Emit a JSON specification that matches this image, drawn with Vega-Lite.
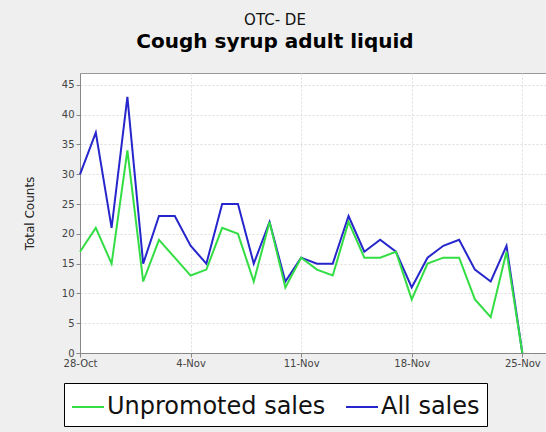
{
  "$schema": "https://vega.github.io/schema/vega-lite/v6.json",
  "width": 466,
  "height": 280,
  "autosize": {"type": "none"},
  "padding": {"left": 80, "top": 73, "right": 0, "bottom": 79},
  "background": "#efefef",
  "title": {
    "text": "OTC- DE",
    "subtitle": "Cough syrup adult liquid",
    "anchor": "middle",
    "dx": -38,
    "offset": 21,
    "font": "DejaVu Sans",
    "fontSize": 15,
    "fontWeight": "normal",
    "color": "#111111",
    "subtitleFont": "DejaVu Sans",
    "subtitleFontSize": 20,
    "subtitleFontWeight": "bold",
    "subtitleColor": "#000000",
    "subtitlePadding": 4
  },
  "config": {
    "view": {"fill": "white", "stroke": "#999999"},
    "axis": {
      "labelFont": "DejaVu Sans",
      "labelFontSize": 10,
      "labelColor": "#444444",
      "titleFont": "DejaVu Sans",
      "domainColor": "#888888",
      "tickColor": "#888888",
      "tickSize": 4,
      "gridColor": "#dddddd",
      "gridDash": [2, 2]
    }
  },
  "data": {
    "values": [
      {"date": "2012/10/28", "series": "All sales", "count": 30},
      {"date": "2012/10/29", "series": "All sales", "count": 37},
      {"date": "2012/10/30", "series": "All sales", "count": 21},
      {"date": "2012/10/31", "series": "All sales", "count": 43},
      {"date": "2012/11/01", "series": "All sales", "count": 15},
      {"date": "2012/11/02", "series": "All sales", "count": 23},
      {"date": "2012/11/03", "series": "All sales", "count": 23},
      {"date": "2012/11/04", "series": "All sales", "count": 18},
      {"date": "2012/11/05", "series": "All sales", "count": 15},
      {"date": "2012/11/06", "series": "All sales", "count": 25},
      {"date": "2012/11/07", "series": "All sales", "count": 25},
      {"date": "2012/11/08", "series": "All sales", "count": 15},
      {"date": "2012/11/09", "series": "All sales", "count": 22},
      {"date": "2012/11/10", "series": "All sales", "count": 12},
      {"date": "2012/11/11", "series": "All sales", "count": 16},
      {"date": "2012/11/12", "series": "All sales", "count": 15},
      {"date": "2012/11/13", "series": "All sales", "count": 15},
      {"date": "2012/11/14", "series": "All sales", "count": 23},
      {"date": "2012/11/15", "series": "All sales", "count": 17},
      {"date": "2012/11/16", "series": "All sales", "count": 19},
      {"date": "2012/11/17", "series": "All sales", "count": 17},
      {"date": "2012/11/18", "series": "All sales", "count": 11},
      {"date": "2012/11/19", "series": "All sales", "count": 16},
      {"date": "2012/11/20", "series": "All sales", "count": 18},
      {"date": "2012/11/21", "series": "All sales", "count": 19},
      {"date": "2012/11/22", "series": "All sales", "count": 14},
      {"date": "2012/11/23", "series": "All sales", "count": 12},
      {"date": "2012/11/24", "series": "All sales", "count": 18},
      {"date": "2012/11/25", "series": "All sales", "count": 0},
      {"date": "2012/10/28", "series": "Unpromoted sales", "count": 17},
      {"date": "2012/10/29", "series": "Unpromoted sales", "count": 21},
      {"date": "2012/10/30", "series": "Unpromoted sales", "count": 15},
      {"date": "2012/10/31", "series": "Unpromoted sales", "count": 34},
      {"date": "2012/11/01", "series": "Unpromoted sales", "count": 12},
      {"date": "2012/11/02", "series": "Unpromoted sales", "count": 19},
      {"date": "2012/11/03", "series": "Unpromoted sales", "count": 16},
      {"date": "2012/11/04", "series": "Unpromoted sales", "count": 13},
      {"date": "2012/11/05", "series": "Unpromoted sales", "count": 14},
      {"date": "2012/11/06", "series": "Unpromoted sales", "count": 21},
      {"date": "2012/11/07", "series": "Unpromoted sales", "count": 20},
      {"date": "2012/11/08", "series": "Unpromoted sales", "count": 12},
      {"date": "2012/11/09", "series": "Unpromoted sales", "count": 22},
      {"date": "2012/11/10", "series": "Unpromoted sales", "count": 11},
      {"date": "2012/11/11", "series": "Unpromoted sales", "count": 16},
      {"date": "2012/11/12", "series": "Unpromoted sales", "count": 14},
      {"date": "2012/11/13", "series": "Unpromoted sales", "count": 13},
      {"date": "2012/11/14", "series": "Unpromoted sales", "count": 22},
      {"date": "2012/11/15", "series": "Unpromoted sales", "count": 16},
      {"date": "2012/11/16", "series": "Unpromoted sales", "count": 16},
      {"date": "2012/11/17", "series": "Unpromoted sales", "count": 17},
      {"date": "2012/11/18", "series": "Unpromoted sales", "count": 9},
      {"date": "2012/11/19", "series": "Unpromoted sales", "count": 15},
      {"date": "2012/11/20", "series": "Unpromoted sales", "count": 16},
      {"date": "2012/11/21", "series": "Unpromoted sales", "count": 16},
      {"date": "2012/11/22", "series": "Unpromoted sales", "count": 9},
      {"date": "2012/11/23", "series": "Unpromoted sales", "count": 6},
      {"date": "2012/11/24", "series": "Unpromoted sales", "count": 17},
      {"date": "2012/11/25", "series": "Unpromoted sales", "count": 0}
    ]
  },
  "mark": {"type": "line", "strokeWidth": 2},
  "encoding": {
    "x": {
      "field": "date",
      "type": "temporal",
      "scale": {
        "domain": [
          {"year": 2012, "month": 10, "date": 28},
          {"year": 2012, "month": 11, "date": 26, "hours": 12}
        ]
      },
      "axis": {
        "title": null,
        "format": "%-d-%b",
        "values": [
          {"year": 2012, "month": 10, "date": 28},
          {"year": 2012, "month": 11, "date": 4},
          {"year": 2012, "month": 11, "date": 11},
          {"year": 2012, "month": 11, "date": 18},
          {"year": 2012, "month": 11, "date": 25}
        ],
        "labelPadding": 1,
        "labelFlush": false,
        "labelOverlap": false
      }
    },
    "y": {
      "field": "count",
      "type": "quantitative",
      "scale": {"domain": [0, 47], "nice": false},
      "axis": {
        "title": "Total Counts",
        "titleFontSize": 12,
        "titleFontWeight": "normal",
        "titleColor": "#222222",
        "titleX": -44,
        "values": [0, 5, 10, 15, 20, 25, 30, 35, 40, 45],
        "labelPadding": 2
      }
    },
    "color": {
      "field": "series",
      "type": "nominal",
      "scale": {
        "domain": ["Unpromoted sales", "All sales"],
        "range": ["#33dd44", "#2626cc"]
      },
      "legend": {
        "title": null,
        "orient": "none",
        "legendX": -16,
        "legendY": 310,
        "direction": "horizontal",
        "symbolType": "stroke",
        "symbolSize": 1024,
        "symbolStrokeWidth": 2,
        "labelFont": "DejaVu Sans",
        "labelFontSize": 24,
        "labelLimit": 400,
        "labelColor": "#111111",
        "labelOffset": 2,
        "columnPadding": 16,
        "padding": 7,
        "strokeColor": "#000000",
        "fillColor": "#ffffff"
      }
    }
  }
}
